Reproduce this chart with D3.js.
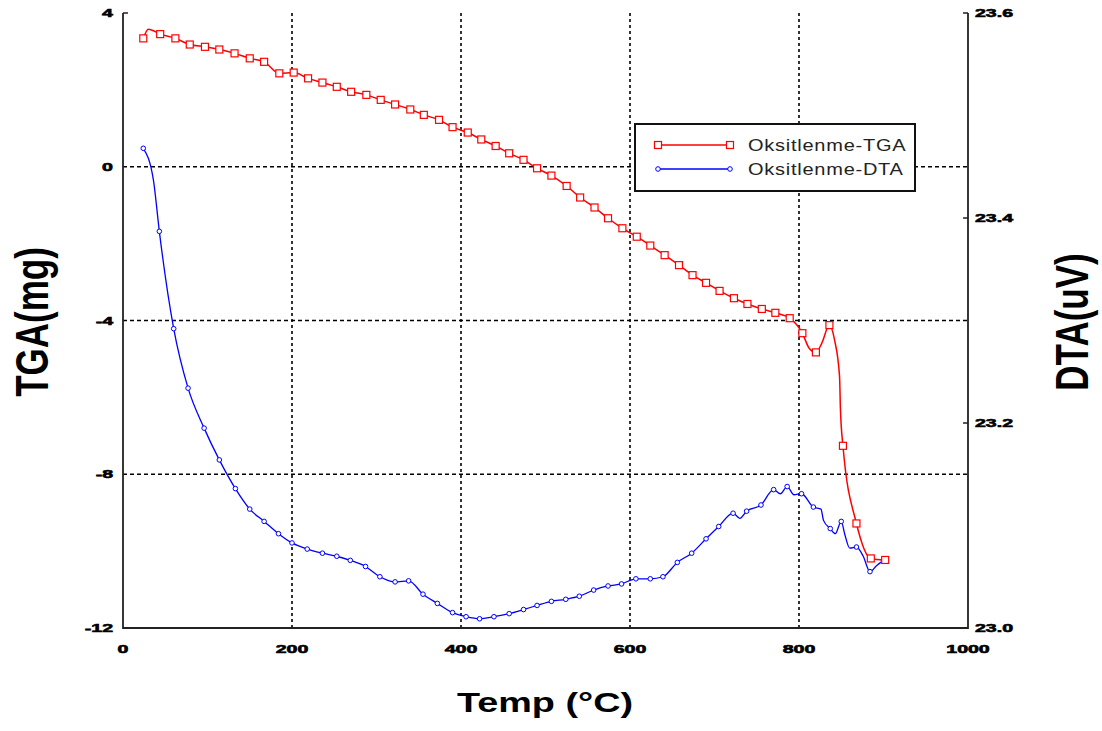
<!doctype html>
<html>
<head>
	<title>TGA DTA</title>
	<meta charset="utf-8">
	<script type="text/javascript" src="https://cdn.jsdelivr.net/npm/d3@7"></script>
	<style>
		body { margin: 0; background: #fff; }
		text { font-family: "Liberation Sans", Arial, sans-serif; }
	</style>
</head>
<body>
	<script type="text/javascript">
		// [temp, value, marker]
		var tgaData = [
			[24,3.34,1],[30,3.58,0],[44,3.45,1],[62,3.34,1],[79,3.18,1],[97,3.12,1],[114,3.05,1],[132,2.95,1],
			[150,2.82,1],[167,2.73,1],[185,2.43,1],[202,2.45,1],[219,2.30,1],[236,2.19,1],[253,2.08,1],[270,1.95,1],
			[288,1.87,1],[305,1.74,1],[322,1.62,1],[340,1.49,1],[356,1.35,1],[374,1.22,1],[390,1.03,1],[408,0.89,1],
			[424,0.71,1],[441,0.54,1],[457,0.35,1],[474,0.18,1],[490,-0.04,1],[507,-0.23,1],[525,-0.50,1],[541,-0.80,1],
			[558,-1.06,1],[574,-1.34,1],[591,-1.60,1],[608,-1.82,1],[624,-2.05,1],[641,-2.30,1],[658,-2.56,1],[674,-2.82,1],
			[690,-3.02,1],[706,-3.23,1],[723,-3.42,1],[739,-3.57,1],[756,-3.70,1],[772,-3.80,1],[789,-3.94,1],[804,-4.33,1],
			[812,-4.72,0],[820,-4.83,1],[827,-4.59,0],[836,-4.12,1],[842,-4.50,0],[848,-5.46,0],[849,-6.28,0],[852,-7.26,1],
			[868,-9.28,1],[885,-10.19,1],[902,-10.23,1]
		]
		var dtaData = [
			[24,23.468,1],[36,23.437,0],[43,23.387,1],[60,23.292,1],[77,23.234,1],[96,23.195,1],[114,23.164,1],[133,23.136,1],
			[150,23.116,1],[167,23.104,1],[184,23.092,1],[200,23.083,1],[218,23.077,1],[236,23.073,1],[253,23.070,1],[269,23.066,1],
			[287,23.060,1],[304,23.050,1],[322,23.045,1],[338,23.046,1],[355,23.033,1],[372,23.024,1],[390,23.015,1],[406,23.011,1],
			[422,23.009,1],[439,23.011,1],[457,23.014,1],[474,23.018,1],[490,23.022,1],[507,23.026,1],[524,23.028,1],[540,23.031,1],
			[557,23.037,1],[574,23.041,1],[590,23.043,1],[607,23.048,1],[624,23.048,1],[639,23.050,1],[656,23.064,1],[673,23.073,1],
			[690,23.087,1],[705,23.099,1],[722,23.112,1],[730,23.107,0],[738,23.114,1],[755,23.120,1],[770,23.135,1],[778,23.131,0],
			[786,23.138,1],[794,23.130,0],[803,23.131,1],[817,23.118,1],[826,23.116,0],[829,23.105,0],[837,23.097,1],[843,23.092,0],
			[850,23.104,1],[854,23.092,0],[860,23.078,0],[868,23.079,1],[876,23.070,0],[884,23.055,1],[892,23.061,0],[900,23.066,1]
		]
		var xTicks = [0, 200, 400, 600, 800, 1000]
		var yLeftTicks = [4, 0, -4, -8, -12]
		var yRightTicks = [23.6, 23.4, 23.2, 23.0]
		var seriesNames = ["Oksitlenme-TGA", "Oksitlenme-DTA"]

		var width = 1102
		var height = 731
		var pLeft = 123, pRight = 968, pTop = 13, pBottom = 628

		var svg = d3.select("body")
					.append("svg")
					.attr("width", width)
					.attr("height", height)

		var x = d3.scaleLinear().domain([0, 1000]).range([pLeft, pRight])
		var yL = d3.scaleLinear().domain([-12, 4]).range([pBottom, pTop])
		var yR = d3.scaleLinear().domain([23.0, 23.6]).range([pBottom, pTop])

		// grid
		svg.selectAll(".vgrid")
			.data(xTicks.slice(1, -1))
			.enter()
			.append("line")
			.attr("x1", function(d) { return x(d) })
			.attr("x2", function(d) { return x(d) })
			.attr("y1", pTop)
			.attr("y2", pBottom)
			.attr("stroke", "#000")
			.attr("stroke-width", 1.6)
			.attr("stroke-dasharray", "3,3")
		svg.selectAll(".hgrid")
			.data(yLeftTicks.slice(1, -1))
			.enter()
			.append("line")
			.attr("x1", pLeft)
			.attr("x2", pRight)
			.attr("y1", function(d) { return yL(d) })
			.attr("y2", function(d) { return yL(d) })
			.attr("stroke", "#000")
			.attr("stroke-width", 1.6)
			.attr("stroke-dasharray", "4,3")

		// axis frame
		svg.append("path")
			.attr("d", "M" + pLeft + "," + pTop + "V" + pBottom + "H" + pRight + "V" + pTop)
			.attr("fill", "none")
			.attr("stroke", "#222")
			.attr("stroke-width", 1.8)
		svg.append("line")
			.attr("x1", pLeft).attr("x2", pLeft + 5)
			.attr("y1", yL(4)).attr("y2", yL(4))
			.attr("stroke", "#222").attr("stroke-width", 1.5)
		svg.selectAll(".rtick")
			.data(yRightTicks.slice(0, -1))
			.enter()
			.append("line")
			.attr("x1", pRight - 5).attr("x2", pRight)
			.attr("y1", function(d) { return yR(d) })
			.attr("y2", function(d) { return yR(d) })
			.attr("stroke", "#222").attr("stroke-width", 1.5)

		function tickLabel(px, py, str, anchor) {
			svg.append("g")
				.attr("transform", "translate(" + px + "," + py + ")")
				.append("text")
				.attr("transform", "scale(1.7,1)")
				.attr("text-anchor", anchor)
				.attr("font-size", 11.5)
				.attr("font-weight", "bold")
				.attr("fill", "#000")
				.attr("stroke", "#000")
				.attr("stroke-width", 0.6)
				.text(str)
		}
		xTicks.forEach(function(d) { tickLabel(x(d), 653, d, "middle") })
		yLeftTicks.forEach(function(d) { tickLabel(113, yL(d) + 4, d, "end") })
		yRightTicks.forEach(function(d) { tickLabel(975, yR(d) + 4, d.toFixed(1), "start") })

		// axis titles
		svg.append("text")
			.attr("transform", "translate(545,712) scale(1.4,1)")
			.attr("text-anchor", "middle")
			.attr("font-size", 27)
			.attr("font-weight", "bold")
			.text("Temp (°C)")
		svg.append("text")
			.attr("transform", "translate(48,322) scale(1.3,1) rotate(-90)")
			.attr("text-anchor", "middle")
			.attr("font-size", 35)
			.attr("font-weight", "bold")
			.text("TGA(mg)")
		svg.append("text")
			.attr("transform", "translate(1088,322) scale(1.3,1) rotate(-90)")
			.attr("text-anchor", "middle")
			.attr("font-size", 35)
			.attr("font-weight", "bold")
			.text("DTA(uV)")

		// series
		var tgaLine = d3.line()
			.x(function(d) { return x(d[0]) })
			.y(function(d) { return yL(d[1]) })
			.curve(d3.curveMonotoneX)
		var dtaLine = d3.line()
			.x(function(d) { return x(d[0]) })
			.y(function(d) { return yR(d[1]) })
			.curve(d3.curveMonotoneX)

		svg.append("path")
			.attr("d", dtaLine(dtaData))
			.attr("fill", "none")
			.attr("stroke", "#0000ff")
			.attr("stroke-width", 1.3)
		svg.selectAll(".dta")
			.data(dtaData.filter(function(d) { return d[2] }))
			.enter()
			.append("circle")
			.attr("cx", function(d) { return x(d[0]) })
			.attr("cy", function(d) { return yR(d[1]) })
			.attr("r", 2.3)
			.attr("fill", "#fff")
			.attr("stroke", "#0000ff")
			.attr("stroke-width", 1)

		svg.append("path")
			.attr("d", tgaLine(tgaData))
			.attr("fill", "none")
			.attr("stroke", "#ff0000")
			.attr("stroke-width", 1.5)
		svg.selectAll(".tga")
			.data(tgaData.filter(function(d) { return d[2] }))
			.enter()
			.append("rect")
			.attr("x", function(d) { return x(d[0]) - 3.5 })
			.attr("y", function(d) { return yL(d[1]) - 3.5 })
			.attr("width", 7)
			.attr("height", 7)
			.attr("fill", "#fff")
			.attr("stroke", "#ff0000")
			.attr("stroke-width", 1.2)

		// legend
		var legend = svg.append("g")
		legend.append("rect")
			.attr("x", 635)
			.attr("y", 124)
			.attr("width", 280)
			.attr("height", 67)
			.attr("fill", "#fff")
			.attr("stroke", "#111")
			.attr("stroke-width", 2)
		var colors = ["#ff0000", "#0000ff"]
		seriesNames.forEach(function(name, i) {
			var ly = 145 + i * 24
			legend.append("line")
				.attr("x1", 658).attr("x2", 730)
				.attr("y1", ly).attr("y2", ly)
				.attr("stroke", colors[i])
				.attr("stroke-width", 1.5)
			;[658, 730].forEach(function(px) {
				if (i == 0) {
					legend.append("rect")
						.attr("x", px - 3.5).attr("y", ly - 3.5)
						.attr("width", 7).attr("height", 7)
						.attr("fill", "#fff").attr("stroke", colors[i]).attr("stroke-width", 1.2)
				} else {
					legend.append("circle")
						.attr("cx", px).attr("cy", ly).attr("r", 2.3)
						.attr("fill", "#fff").attr("stroke", colors[i]).attr("stroke-width", 1)
				}
			})
			legend.append("text")
				.attr("transform", "translate(748," + (ly + 6) + ") scale(1.25,1)")
				.attr("font-size", 16)
				.attr("letter-spacing", 0.6)
				.attr("fill", "#222")
				.text(name)
		})
	</script>
</body>
</html>
